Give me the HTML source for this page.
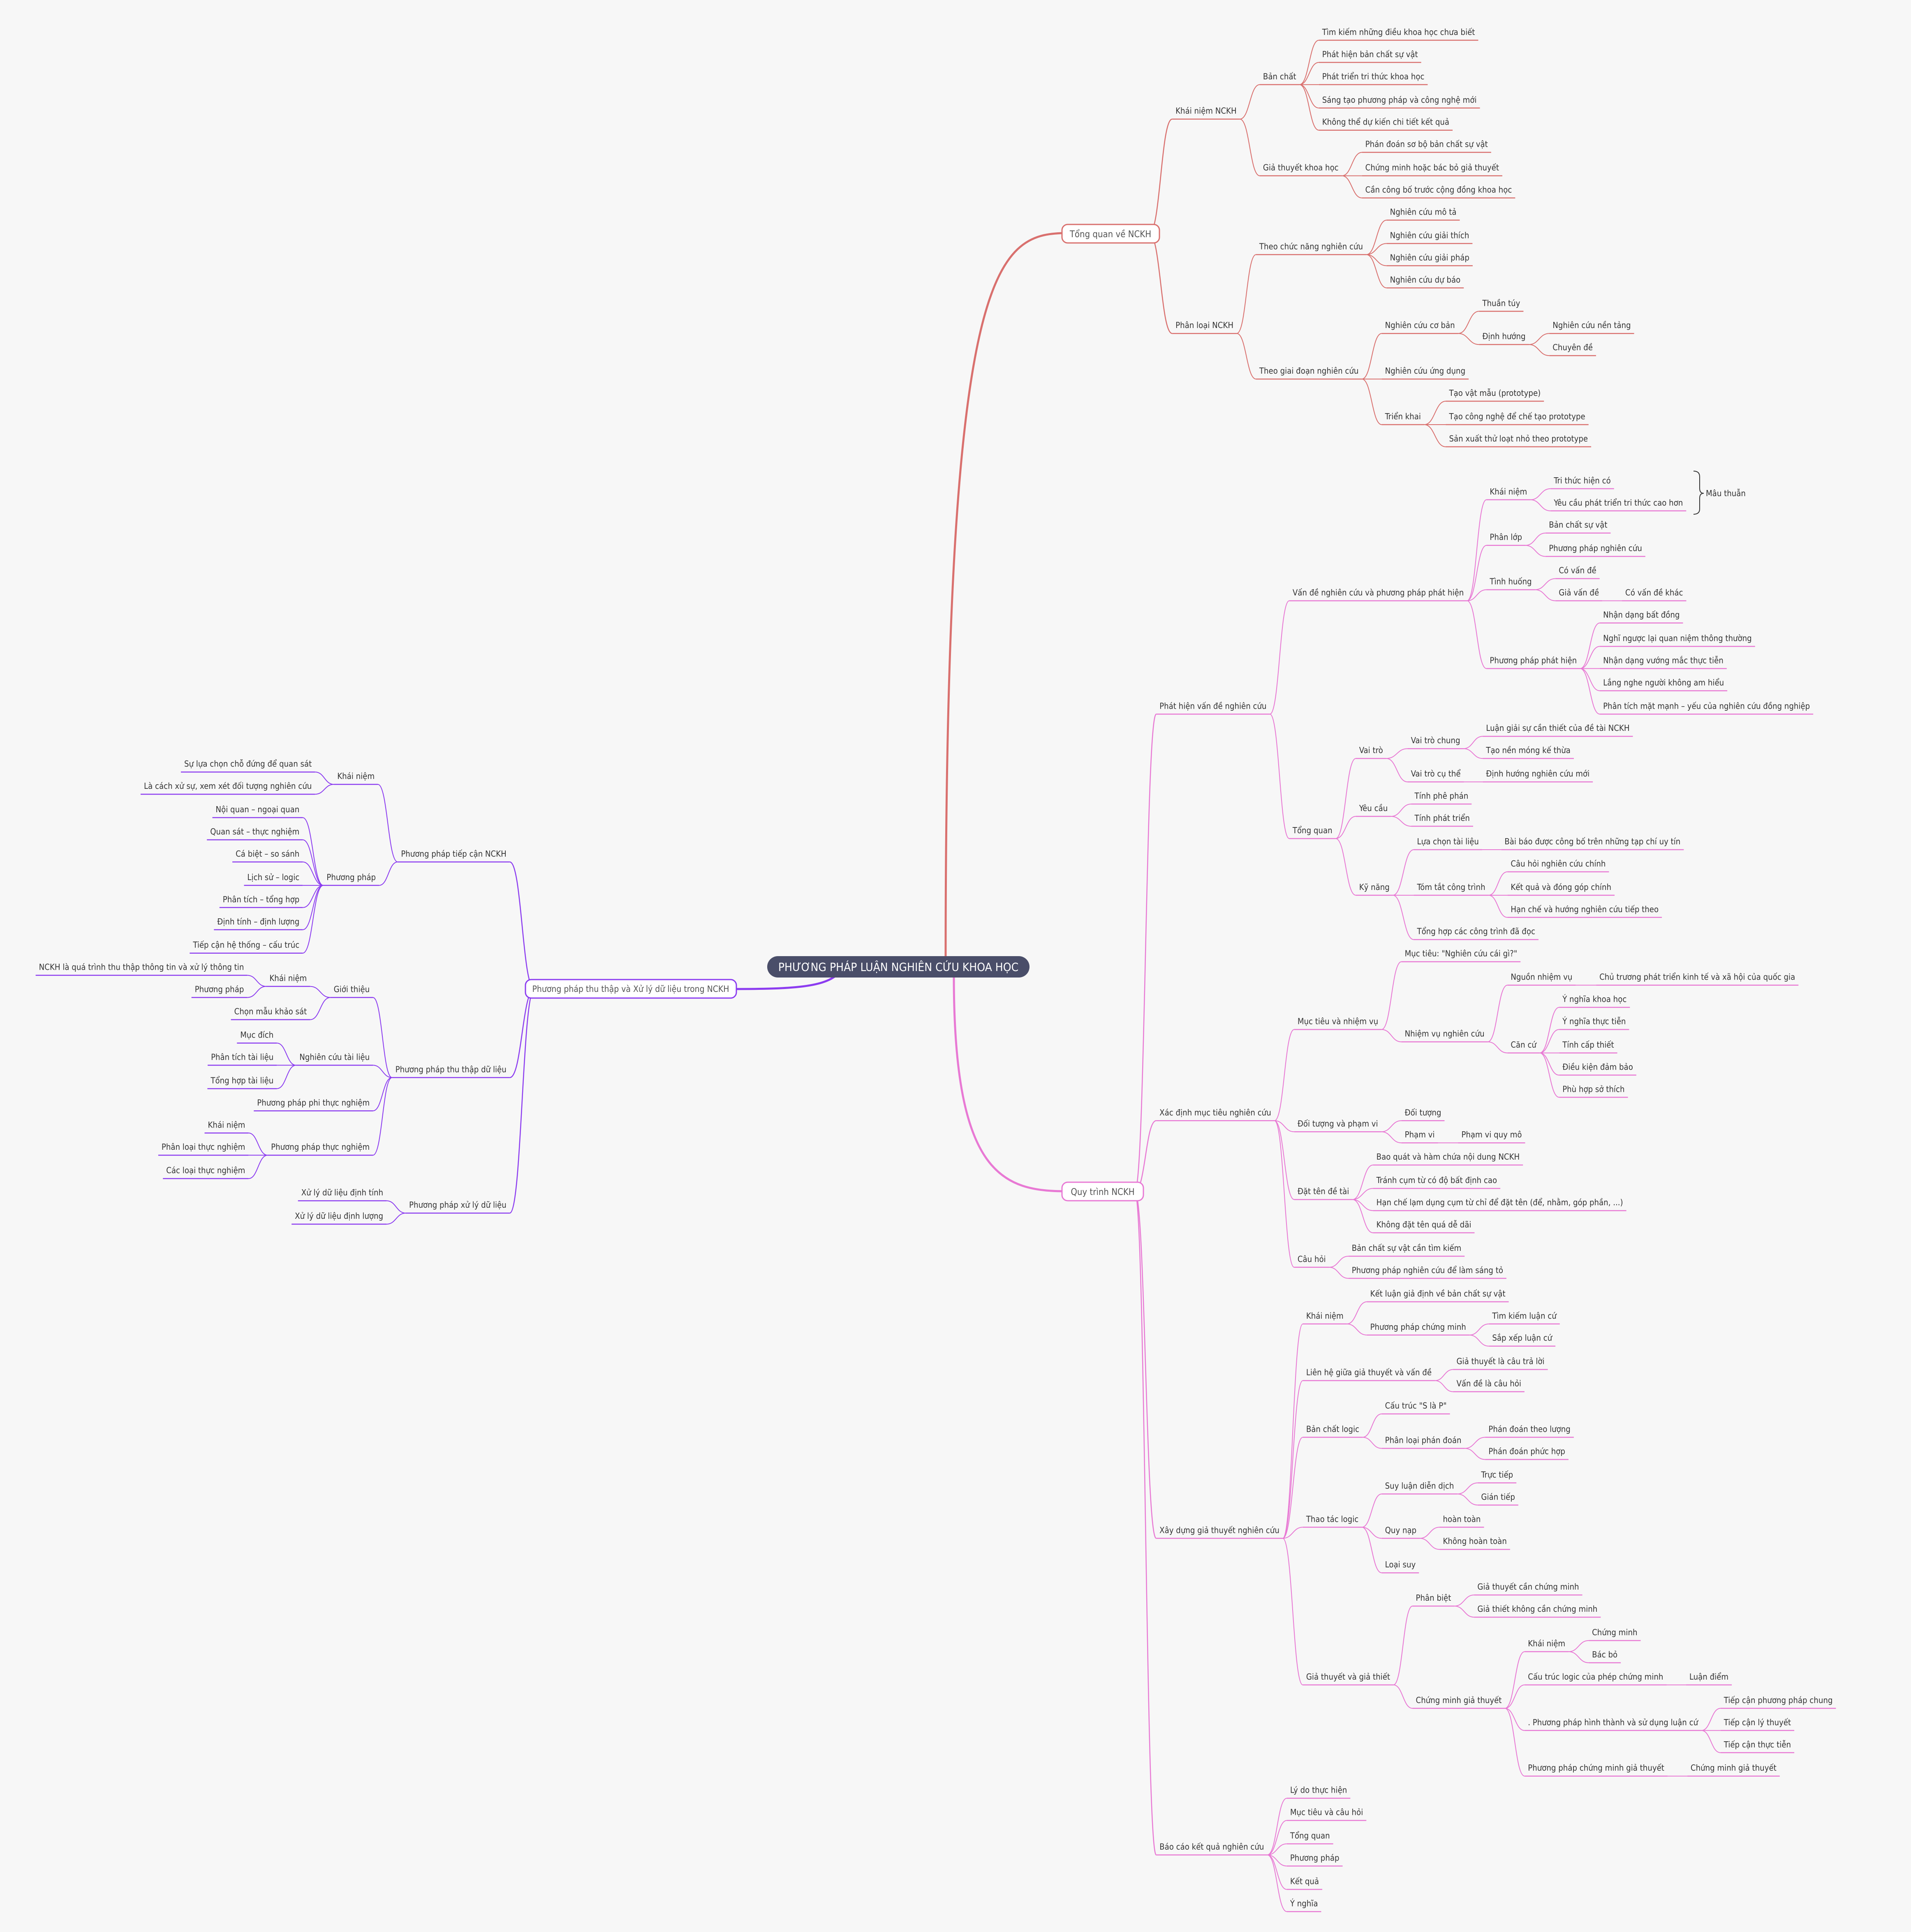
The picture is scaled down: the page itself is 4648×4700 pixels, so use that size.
<!DOCTYPE html>
<html><head><meta charset="utf-8">
<style>
html,body{margin:0;padding:0;background:#f7f7f7;}
svg{display:block;}
text{font-family:"DejaVu Sans Condensed","Liberation Sans Narrow","Liberation Sans",sans-serif;fill:#333;}
</style></head>
<body>
<svg id="s" xmlns="http://www.w3.org/2000/svg" width="4648" height="4700" viewBox="0 0 4648 4700">
<rect width="4648" height="4700" fill="#f7f7f7"/>
<g id="edges"></g>
<g id="rootedges" fill="none" stroke-width="5">
<path d="M2300,2330 C2300,650 2420,567 2595,567" stroke="#d9706e"/>
<path d="M2320,2376 C2320,2860 2440,2898 2595,2898" stroke="#e879d4"/>
<path d="M2035,2372 C2000,2402 1920,2406 1785,2406" stroke="#8c3cf0"/>
</g>
<g id="boxes">
<rect x="1866" y="2326" width="638" height="52" rx="26" fill="#4a4e69"/>
<text x="2185" y="2362" text-anchor="middle" style="fill:#fff;font-size:28px">PHƯƠNG PHÁP LUẬN NGHIÊN CỨU KHOA HỌC</text>
<rect x="2583" y="546" width="237" height="45" rx="14" fill="#fff" stroke="#d9706e" stroke-width="3"/>
<text x="2701" y="577" text-anchor="middle" style="font-size:22px;fill:#555">Tổng quan về NCKH</text>
<rect x="2583" y="2876" width="198" height="45" rx="14" fill="#fff" stroke="#e879d4" stroke-width="3"/>
<text x="2682" y="2907" text-anchor="middle" style="font-size:22px;fill:#555">Quy trình NCKH</text>
<rect x="1278" y="2383" width="513" height="45" rx="14" fill="#fff" stroke="#8c3cf0" stroke-width="3"/>
<text x="1534" y="2413" text-anchor="middle" style="font-size:21px;fill:#555">Phương pháp thu thập và Xử lý dữ liệu trong NCKH</text>
</g>
<g id="nodes"></g>
<path d="M4119,1146 Q4134,1146 4134,1160 L4134,1188 Q4134,1200 4144,1200 Q4134,1200 4134,1212 L4134,1238 Q4134,1251 4119,1251" fill="none" stroke="#333" stroke-width="2"/>
<text id="mt" x="4149" y="1207" style="font-size:19px">Mâu thuẫn</text>
</svg>
<script>
function N(t,x,y,c){return {t:t,x:x,y:y,c:c||[]};}
var right1=[
N("Khái niệm NCKH",954,90,[
 N("Bản chất",1025,62,[N("Tìm kiếm những điều khoa học chưa biết",1073,26),N("Phát hiện bản chất sự vật",1073,44),N("Phát triển tri thức khoa học",1073,62),N("Sáng tạo phương pháp và công nghệ mới",1073,81),N("Không thể dự kiến chi tiết kết quả",1073,99)]),
 N("Giả thuyết khoa học",1025,136,[N("Phán đoán sơ bộ bản chất sự vật",1108,117),N("Chứng minh hoặc bác bỏ giả thuyết",1108,136),N("Cần công bố trước cộng đồng khoa học",1108,154)])]),
N("Phân loại NCKH",954,264,[
 N("Theo chức năng nghiên cứu",1022,200,[N("Nghiên cứu mô tả",1128,172),N("Nghiên cứu giải thích",1128,191),N("Nghiên cứu giải pháp",1128,209),N("Nghiên cứu dự báo",1128,227)]),
 N("Theo giai đoạn nghiên cứu",1022,301,[
  N("Nghiên cứu cơ bản",1124,264,[N("Thuần túy",1203,246),N("Định hướng",1203,273,[N("Nghiên cứu nền tảng",1260,264),N("Chuyên đề",1260,282)])]),
  N("Nghiên cứu ứng dụng",1124,301),
  N("Triển khai",1124,338,[N("Tạo vật mẫu (prototype)",1176,319),N("Tạo công nghệ để chế tạo prototype",1176,338),N("Sản xuất thử loạt nhỏ theo prototype",1176,356)])])])];
var right2=[
N("Phát hiện vấn đề nghiên cứu",941,573,[
 N("Vấn đề nghiên cứu và phương pháp phát hiện",1049,481,[
  N("Khái niệm",1209,399,[N("Tri thức hiện có",1261,390),N("Yêu cầu phát triển tri thức cao hơn",1261,408)]),
  N("Phân lớp",1209,436,[N("Bản chất sự vật",1257,426),N("Phương pháp nghiên cứu",1257,445)]),
  N("Tình huống",1209,472,[N("Có vấn đề",1265,463),N("Giả vấn đề",1265,481,[N("Có vấn đề khác",1319,481)])]),
  N("Phương pháp phát hiện",1209,536,[N("Nhận dạng bất đồng",1301,499),N("Nghĩ ngược lại quan niệm thông thường",1301,518),N("Nhận dạng vướng mắc thực tiễn",1301,536),N("Lắng nghe người không am hiểu",1301,554),N("Phân tích mặt mạnh – yếu của nghiên cứu đồng nghiệp",1301,573)])]),
 N("Tổng quan",1049,674,[
  N("Vai trò",1103,609,[N("Vai trò chung",1145,601,[N("Luận giải sự cần thiết của đề tài NCKH",1206,591),N("Tạo nền móng kế thừa",1206,609)]),N("Vai trò cụ thể",1145,628,[N("Định hướng nghiên cứu mới",1206,628)])]),
  N("Yêu cầu",1103,656,[N("Tính phê phán",1148,646),N("Tính phát triển",1148,664)]),
  N("Kỹ năng",1103,720,[N("Lựa chọn tài liệu",1150,683,[N("Bài báo được công bố trên những tạp chí uy tín",1221,683)]),N("Tóm tắt công trình",1150,720,[N("Câu hỏi nghiên cứu chính",1226,701),N("Kết quả và đóng góp chính",1226,720),N("Hạn chế và hướng nghiên cứu tiếp theo",1226,738)]),N("Tổng hợp các công trình đã đọc",1150,756)])])]),
N("Xác định mục tiêu nghiên cứu",941,903,[
 N("Mục tiêu và nhiệm vụ",1053,829,[N("Mục tiêu: \"Nghiên cứu cái gì?\"",1140,774),N("Nhiệm vụ nghiên cứu",1140,839,[N("Nguồn nhiệm vụ",1226,793,[N("Chủ trương phát triển kinh tế và xã hội của quốc gia",1298,793)]),N("Căn cứ",1226,848,[N("Ý nghĩa khoa học",1268,811),N("Ý nghĩa thực tiễn",1268,829),N("Tính cấp thiết",1268,848),N("Điều kiện đảm bảo",1268,866),N("Phù hợp sở thích",1268,884)])])]),
 N("Đối tượng và phạm vi",1053,912,[N("Đối tượng",1140,903),N("Phạm vi",1140,921,[N("Phạm vi quy mô",1186,921)])]),
 N("Đặt tên đề tài",1053,967,[N("Bao quát và hàm chứa nội dung NCKH",1117,939),N("Tránh cụm từ có độ bất định cao",1117,958),N("Hạn chế lạm dụng cụm từ chỉ để đặt tên (để, nhằm, góp phần, ...)",1117,976),N("Không đặt tên quá dễ dãi",1117,994)]),
 N("Câu hỏi",1053,1022,[N("Bản chất sự vật cần tìm kiếm",1097,1013),N("Phương pháp nghiên cứu để làm sáng tỏ",1097,1031)])]),
N("Xây dựng giả thuyết nghiên cứu",941,1242,[
 N("Khái niệm",1060,1068,[N("Kết luận giả định về bản chất sự vật",1112,1050),N("Phương pháp chứng minh",1112,1077,[N("Tìm kiếm luận cứ",1211,1068),N("Sắp xếp luận cứ",1211,1086)])]),
 N("Liên hệ giữa giả thuyết và vấn đề",1060,1114,[N("Giả thuyết là câu trả lời",1182,1105),N("Vấn đề là câu hỏi",1182,1123)]),
 N("Bản chất logic",1060,1160,[N("Cấu trúc \"S là P\"",1124,1141),N("Phân loại phán đoán",1124,1169,[N("Phán đoán theo lượng",1208,1160),N("Phán đoán phức hợp",1208,1178)])]),
 N("Thao tác logic",1060,1233,[N("Suy luận diễn dịch",1124,1206,[N("Trực tiếp",1202,1197),N("Gián tiếp",1202,1215)]),N("Quy nạp",1124,1242,[N("hoàn toàn",1171,1233),N("Không hoàn toàn",1171,1251)]),N("Loại suy",1124,1270)]),
 N("Giả thuyết và giả thiết",1060,1361,[
  N("Phân biệt",1149,1297,[N("Giả thuyết cần chứng minh",1199,1288),N("Giả thiết không cần chứng minh",1199,1306)]),
  N("Chứng minh giả thuyết",1149,1380,[N("Khái niệm",1240,1334,[N("Chứng minh",1292,1325),N("Bác bỏ",1292,1343)]),N("Cấu trúc logic của phép chứng minh",1240,1361,[N("Luận điểm",1371,1361)]),N(". Phương pháp hình thành và sử dụng luận cứ",1240,1398,[N("Tiếp cận phương pháp chung",1399,1380),N("Tiếp cận lý thuyết",1399,1398),N("Tiếp cận thực tiễn",1399,1416)]),N("Phương pháp chứng minh giả thuyết",1240,1435,[N("Chứng minh giả thuyết",1372,1435)])])])]),
N("Báo cáo kết quả nghiên cứu",941,1499,[N("Lý do thực hiện",1047,1453),N("Mục tiêu và câu hỏi",1047,1471),N("Tổng quan",1047,1490),N("Phương pháp",1047,1508),N("Kết quả",1047,1527),N("Ý nghĩa",1047,1545)])];
var left=[
N("Phương pháp tiếp cận NCKH",411,693,[
 N("Khái niệm",304,630,[N("Sự lựa chọn chỗ đứng để quan sát",253,620),N("Là cách xử sự, xem xét đối tượng nghiên cứu",253,638)]),
 N("Phương pháp",305,712,[N("Nội quan – ngoại quan",243,657),N("Quan sát – thực nghiệm",243,675),N("Cá biệt – so sánh",243,693),N("Lịch sử – logic",243,712),N("Phân tích – tổng hợp",243,730),N("Định tính – định lượng",243,748),N("Tiếp cận hệ thống – cấu trúc",243,767)])]),
N("Phương pháp thu thập dữ liệu",411,868,[
 N("Giới thiệu",300,803,[N("Khái niệm",249,794,[N("NCKH là quá trình thu thập thông tin và xử lý thông tin",198,785),N("Phương pháp",198,803)]),N("Chọn mẫu khảo sát",249,821)]),
 N("Nghiên cứu tài liệu",300,858,[N("Mục đích",222,840),N("Phân tích tài liệu",222,858),N("Tổng hợp tài liệu",222,877)]),
 N("Phương pháp phi thực nghiệm",300,895),
 N("Phương pháp thực nghiệm",300,931,[N("Khái niệm",199,913),N("Phân loại thực nghiệm",199,931),N("Các loại thực nghiệm",199,950)])]),
N("Phương pháp xử lý dữ liệu",411,978,[N("Xử lý dữ liệu định tính",311,968),N("Xử lý dữ liệu định lượng",311,987)])];

var NS="http://www.w3.org/2000/svg",S=2.997;
var eg=document.getElementById("edges"),ng=document.getElementById("nodes");
var fs=19;
(function(){var t=document.createElementNS(NS,"text");t.setAttribute("style","font-size:20px");t.textContent="Tìm kiếm những điều khoa học chưa biết";ng.appendChild(t);var w=t.getComputedTextLength();ng.removeChild(t);if(w>0){fs=20*372/w;if(fs>22)fs=22;if(fs<15)fs=15;}})();
document.getElementById("mt").setAttribute("style","font-size:"+fs.toFixed(2)+"px");
function line(x1,y1,x2,y2,col,sw){var p=document.createElementNS(NS,"path");p.setAttribute("d","M"+x1+","+y1+" L"+x2+","+y2);p.setAttribute("stroke",col);p.setAttribute("stroke-width",sw);p.setAttribute("fill","none");ng.appendChild(p);}
function curve(x1,y1,x2,y2,col,sw){var p=document.createElementNS(NS,"path");var m=(x1+x2)/2;p.setAttribute("d","M"+x1+","+y1+" C"+m+","+y1+" "+m+","+y2+" "+x2+","+y2);p.setAttribute("stroke",col);p.setAttribute("stroke-width",sw);p.setAttribute("fill","none");eg.appendChild(p);}
function draw(n,px,py,side,col,sw){
 var t=document.createElementNS(NS,"text");t.setAttribute("style","font-size:"+fs.toFixed(2)+"px");
 t.textContent=n.t;var X=n.x*S,Y=n.y*S;
 t.setAttribute("x",X);t.setAttribute("y",Y+7);
 if(side<0)t.setAttribute("text-anchor","end");
 ng.appendChild(t);var w=t.getComputedTextLength();
 var by=Y+20,inner,outer;
 if(side>0){inner=X-8;outer=X+w+8;}else{inner=X+8;outer=X-w-8;}
 line(inner,by,outer,by,col,2.5);
 curve(px,py,inner,by,col,sw);
 n.c.forEach(function(c){draw(c,outer,by,side,col,2);});
}
right1.forEach(function(n){draw(n,2795,568,1,"#d9706e",2.5);});
right2.forEach(function(n){draw(n,2760,2898,1,"#e879d4",2.5);});
left.forEach(function(n){draw(n,1300,2406,-1,"#8c3cf0",2.5);});
</script>
</body></html>
